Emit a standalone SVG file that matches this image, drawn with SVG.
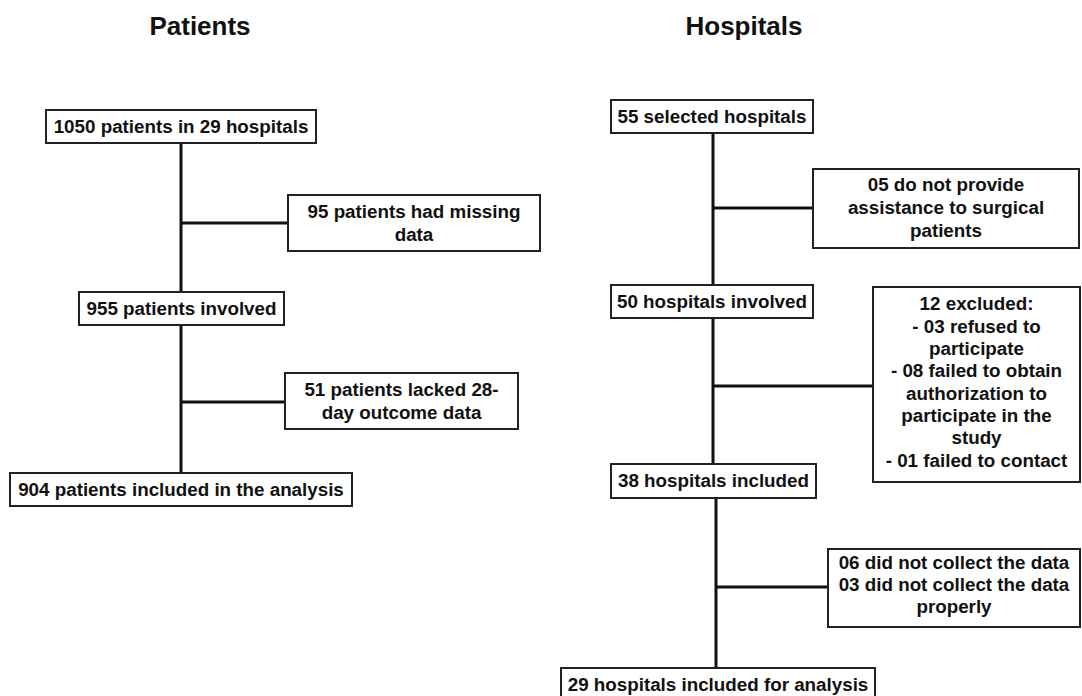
<svg xmlns="http://www.w3.org/2000/svg" width="1082" height="696" viewBox="0 0 1082 696">
<style>
.bg{fill:#ffffff}
.box{fill:#ffffff;stroke:#222222;stroke-width:2}
.t{font-family:"Liberation Sans",Arial,sans-serif;font-weight:bold;font-size:18.8px;fill:#111111;text-anchor:middle}
.title{font-family:"Liberation Sans",Arial,sans-serif;font-weight:bold;font-size:26px;fill:#111111;text-anchor:middle}
.c{stroke:#111111;stroke-width:3;fill:none}
</style>
<rect class="bg" x="0" y="0" width="1082" height="696"/>
<g id="titles">
<text class="title" x="200" y="35">Patients</text>
<text class="title" x="744" y="35">Hospitals</text>
</g>
<g id="connectors">
<line class="c" x1="181" y1="143" x2="181" y2="292"/>
<line class="c" x1="181" y1="223" x2="288" y2="223"/>
<line class="c" x1="181" y1="325" x2="181" y2="473"/>
<line class="c" x1="181" y1="402" x2="285" y2="402"/>
<line class="c" x1="713" y1="133" x2="713" y2="285"/>
<line class="c" x1="713" y1="208" x2="813" y2="208"/>
<line class="c" x1="713" y1="318" x2="713" y2="464"/>
<line class="c" x1="713" y1="386" x2="873" y2="386"/>
<line class="c" x1="716" y1="498" x2="716" y2="668"/>
<line class="c" x1="716" y1="587" x2="828" y2="587"/>
</g>
<g id="n1050">
<rect class="box" x="46" y="110" width="270" height="33"/>
<text class="t" x="181" y="133">1050 patients in 29 hospitals</text>
</g>
<g id="n95">
<rect class="box" x="288" y="195" width="252" height="56"/>
<text class="t" x="414" y="218">95 patients had missing</text>
<text class="t" x="414" y="241">data</text>
</g>
<g id="n955">
<rect class="box" x="79" y="292" width="205" height="33"/>
<text class="t" x="181.5" y="315">955 patients involved</text>
</g>
<g id="n51">
<rect class="box" x="285" y="373" width="233" height="56"/>
<text class="t" x="401.5" y="396">51 patients lacked 28-</text>
<text class="t" x="401.5" y="419">day outcome data</text>
</g>
<g id="n904">
<rect class="box" x="10" y="473" width="342" height="33"/>
<text class="t" x="181" y="496">904 patients included in the analysis</text>
</g>
<g id="h55">
<rect class="box" x="611" y="100" width="202" height="33"/>
<text class="t" x="712" y="123">55 selected hospitals</text>
</g>
<g id="h05">
<rect class="box" x="813" y="169" width="266" height="79"/>
<text class="t" x="946" y="191">05 do not provide</text>
<text class="t" x="946" y="214">assistance to surgical</text>
<text class="t" x="946" y="237">patients</text>
</g>
<g id="h50">
<rect class="box" x="611" y="285" width="202" height="33"/>
<text class="t" x="712" y="308">50 hospitals involved</text>
</g>
<g id="h12">
<rect class="box" x="873" y="287" width="207" height="195"/>
<text class="t" x="976.5" y="310">12 excluded:</text>
<text class="t" x="976.5" y="333">- 03 refused to</text>
<text class="t" x="976.5" y="355">participate</text>
<text class="t" x="976.5" y="377">- 08 failed to obtain</text>
<text class="t" x="976.5" y="400">authorization to</text>
<text class="t" x="976.5" y="422">participate in the</text>
<text class="t" x="976.5" y="444">study</text>
<text class="t" x="976.5" y="467">- 01 failed to contact</text>
</g>
<g id="h38">
<rect class="box" x="611" y="464" width="205" height="34"/>
<text class="t" x="713.5" y="487">38 hospitals included</text>
</g>
<g id="h06">
<rect class="box" x="828" y="549" width="252" height="78"/>
<text class="t" x="954" y="569">06 did not collect the data</text>
<text class="t" x="954" y="591">03 did not collect the data</text>
<text class="t" x="954" y="613">properly</text>
</g>
<g id="h29">
<rect class="box" x="561" y="668" width="314" height="34"/>
<text class="t" x="718" y="691">29 hospitals included for analysis</text>
</g>
</svg>
